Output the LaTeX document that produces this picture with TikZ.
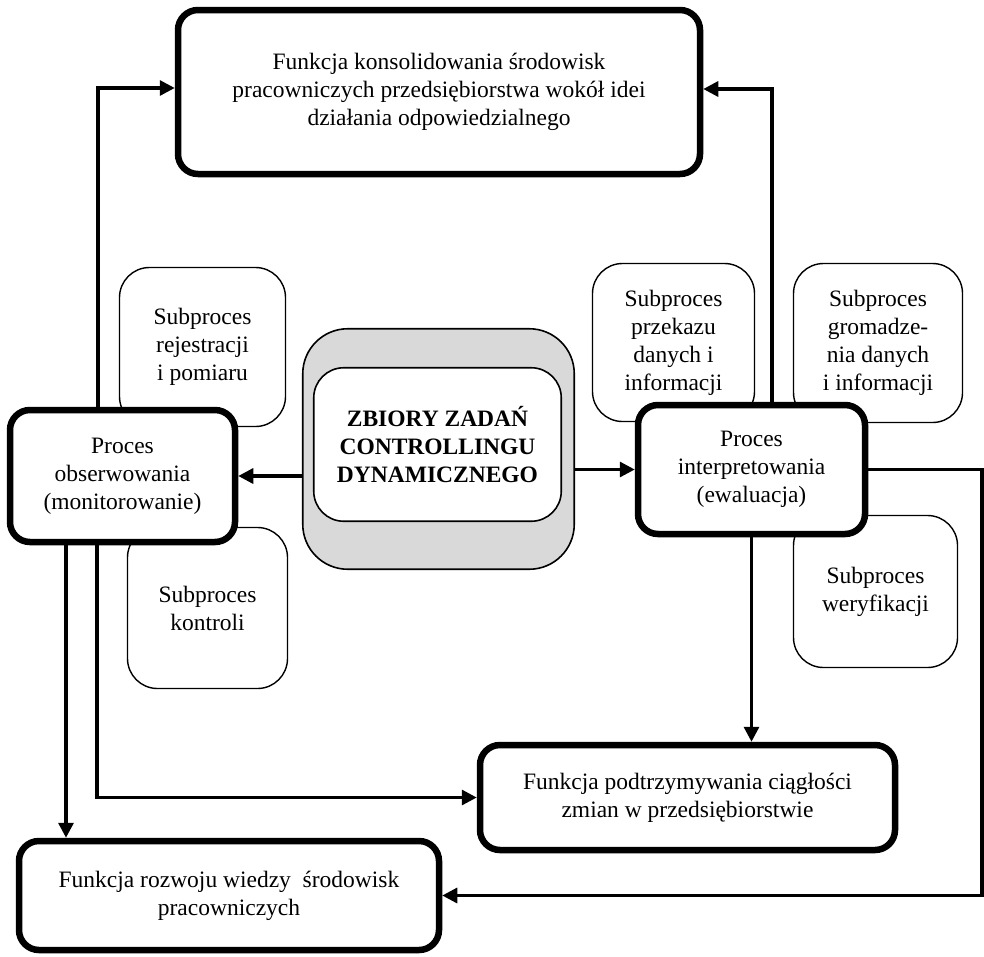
\documentclass[tikz,border=0pt]{standalone}
\usepackage{fontspec}
\setmainfont{Liberation Serif}
\usepackage{tikz}
\usetikzlibrary{arrows.meta,calc,positioning}
\newdimen\thickdim
\newdimen\thindim
\thickdim=6.5pt
\thindim=1.4pt
\tikzstyle{funcbox}=[
  draw=black,
  fill=white,
  font={\fontsize{23.5}{28}\selectfont},
  inner sep=0pt,
  line width=\thickdim,
  rectangle,
  rounded corners=20pt,
  align=center,
]
\tikzstyle{subbox}=[
  draw=black,
  fill=white,
  font={\fontsize{23.5}{28}\selectfont},
  inner sep=0pt,
  line width=\thindim,
  rectangle,
  rounded corners=30pt,
  align=center,
]
\tikzstyle{corebox}=[
  draw=black,
  font={\fontsize{23.5}{28}\selectfont\bfseries},
  inner sep=0pt,
  line width=1.6pt,
  rectangle,
  align=center,
]
\tikzstyle{arrow}=[
  color=black,
  draw=black,
  line width=3.2pt,
]
\tikzset{
  >={Triangle[length=15pt,width=15pt]},
}
\begin{document}
\begin{tikzpicture}[x=1pt,y=-1pt]
    \useasboundingbox (0,0) rectangle (984,956);
    %% subprocesses
    \node (rejestr) [subbox, minimum width=166pt, minimum height=159pt] at (202.5,347) {Subproces\\rejestracji\\i pomiaru};
    \node (kontrola) [subbox, minimum width=160pt, minimum height=161pt] at (207.5,608) {Subproces\\kontroli};
    \node (przekaz) [subbox, minimum width=162pt, minimum height=158pt] at (673.5,342.5) {Subproces\\przekazu\\danych i\\informacji};
    \node (gromadz) [subbox, minimum width=169pt, minimum height=159pt] at (878,343) {Subproces\\gromadze-\\nia danych\\i informacji};
    \node (weryf) [subbox, minimum width=164pt, minimum height=152pt] at (875.5,591.5) {Subproces\\weryfikacji};
    %%
    \node (zbiory) [corebox, fill=black!15, rounded corners=45pt, minimum width=271.5pt, minimum height=240.5pt] at (438.5,449) {};
    \node (zbioryin) [corebox, fill=white, rounded corners=30pt, minimum width=247.5pt, minimum height=153.5pt] at (437.5,444.5) {ZBIORY ZADAŃ\\CONTROLLINGU\\DYNAMICZNEGO};
    %% processes and functions
    \node (obs) [funcbox, minimum width=225pt, minimum height=132pt] at (122.5,476) {Proces\\obserwowania\\(monitorowanie)};
    \node (interp) [funcbox, minimum width=227pt, minimum height=129pt] at (751.5,469.5) {Proces\\interpretowania\\(ewaluacja)};
    \node (konsol) [funcbox, minimum width=522pt, minimum height=164pt] at (439,92) {Funkcja konsolidowania środowisk\\pracowniczych przedsiębiorstwa wokół idei\\działania odpowiedzialnego};
    \node (podtrz) [funcbox, minimum width=415pt, minimum height=105pt] at (687.5,797.5) {Funkcja podtrzymywania ciągłości\\zmian w przedsiębiorstwie};
    \node (rozw) [funcbox, minimum width=420pt, minimum height=109pt] at (229,895.5) {Funkcja rozwoju wiedzy\ \ środowisk\\pracowniczych};
    %%
    \coordinate (obsL) at ([xshift=-56.5pt]obs.south);
    \coordinate (obsR) at ([xshift=-25.5pt]obs.south);
    \coordinate (obsT) at ([xshift=-24.5pt]obs.north);
    \coordinate (interpT) at ([xshift=20.5pt]interp.north);
    \coordinate (edge) at (982,473);
    %%
    \draw [->, arrow] (zbiory.west |- obs.east) -- (obs.east);
    \draw [->, arrow] (zbiory.east |- interp.west) -- (interp.west);
    \draw [->, arrow] (obsT) |- ([yshift=4pt]konsol.west);
    \draw [->, arrow] (interpT) |- ([yshift=3pt]konsol.east);
    \draw [->, arrow] (obsL) -- (obsL |- rozw.north);
    \draw [->, arrow] (obsR) |- (podtrz.west);
    \draw [->, arrow] (interp.south) -- (interp.south |- podtrz.north);
    \draw [->, arrow] (interp.east) -- (interp.east -| edge) |- (rozw.east);
  \end{tikzpicture}
\end{document}
